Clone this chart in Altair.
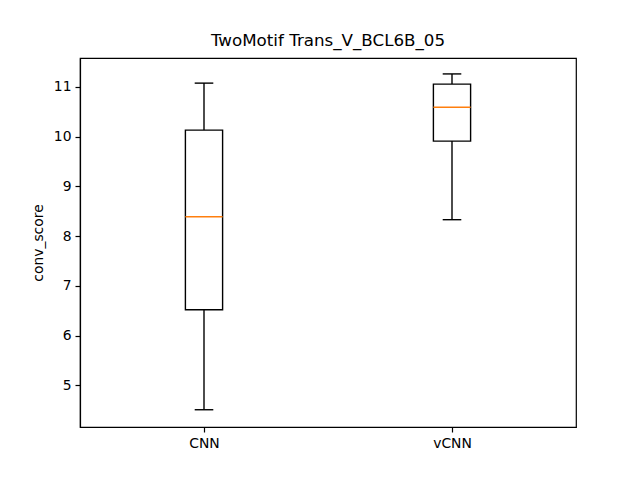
import pandas as pd
import altair as alt

# box summary
models = ["CNN", "vCNN"]
positions = [1, 2]
lows = [4.51, 8.33]
q1s = [6.52, 9.91]
medians = [8.39, 10.59]
q3s = [10.13, 11.055]
highs = [11.075, 11.26]

df = pd.DataFrame({
    "model": models,
    "pos": positions,
    "low": lows,
    "q1": q1s,
    "median": medians,
    "q3": q3s,
    "high": highs,
})

FONT = "DejaVu Sans"

x_scale = alt.Scale(domain=[0.5, 2.5], nice=False, zero=False)
y_scale = alt.Scale(domain=[4.163, 11.58], nice=False, zero=False)

x_axis = alt.Axis(
    values=positions,
    labelExpr="datum.value == 1 ? 'CNN' : 'vCNN'",
    title=None,
    grid=False,
)
y_axis = alt.Axis(
    values=[5, 6, 7, 8, 9, 10, 11],
    title="conv_score",
    grid=False,
)

base = alt.Chart(df).transform_calculate(
    box_l="datum.pos - 0.075",
    box_r="datum.pos + 0.075",
    cap_l="datum.pos - 0.0375",
    cap_r="datum.pos + 0.0375",
)

whisker_lo = base.mark_rule(color="black", strokeWidth=1.4).encode(
    x=alt.X("pos:Q", scale=x_scale, axis=x_axis),
    y=alt.Y("low:Q", scale=y_scale, axis=y_axis),
    y2="q1:Q",
)
whisker_hi = base.mark_rule(color="black", strokeWidth=1.4).encode(
    x="pos:Q",
    y="q3:Q",
    y2="high:Q",
)
cap_lo = base.mark_rule(color="black", strokeWidth=1.4).encode(
    x="cap_l:Q", x2="cap_r:Q", y="low:Q"
)
cap_hi = base.mark_rule(color="black", strokeWidth=1.4).encode(
    x="cap_l:Q", x2="cap_r:Q", y="high:Q"
)
box = base.mark_rect(fill="white", stroke="black", strokeWidth=1.4).encode(
    x="box_l:Q", x2="box_r:Q", y="q1:Q", y2="q3:Q"
)
med = base.mark_rule(color="#ff7f0e", strokeWidth=1.4).encode(
    x="box_l:Q", x2="box_r:Q", y="median:Q"
)

chart = (
    alt.layer(whisker_lo, whisker_hi, box, cap_lo, cap_hi, med)
    .properties(
        width=496,
        height=369,
        autosize=alt.AutoSizeParams(type="none"),
        padding={"left": 72, "top": 50, "right": 56, "bottom": 45},
        title=alt.TitleParams(
            "TwoMotif Trans_V_BCL6B_05",
            font=FONT,
            fontSize=16.7,
            fontWeight="normal",
            color="black",
            anchor="middle",
            offset=8,
        ),
    )
    .configure_view(stroke="black", strokeWidth=1.2)
    .configure_axis(
        labelFont=FONT,
        titleFont=FONT,
        labelFontSize=13.9,
        titleFontSize=13.9,
        titleFontWeight="normal",
        labelColor="black",
        titleColor="black",
        domainColor="black",
        tickColor="black",
        tickSize=5,
        labelPadding=4,
        domainWidth=1.2,
        tickWidth=1.2,
    )
    .configure_axisY(titlePadding=8)
)

chart.save("out.html", embed_options={"renderer": "svg", "actions": False})
